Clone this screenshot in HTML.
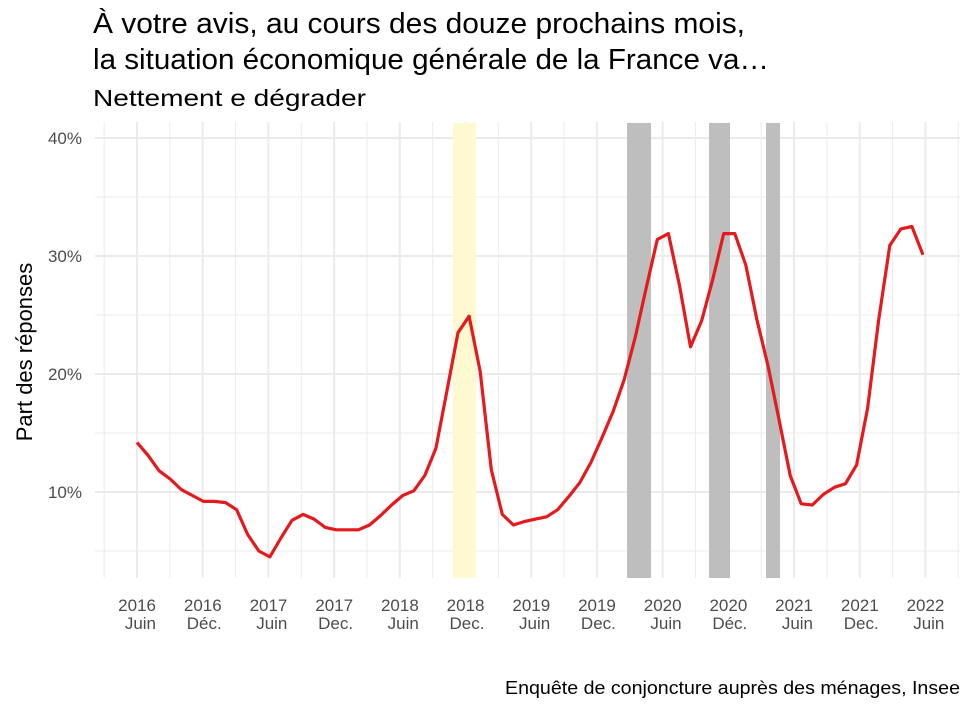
<!DOCTYPE html>
<html><head><meta charset="utf-8"><style>
body{margin:0;background:#fff;font-family:"Liberation Sans",sans-serif}
</style></head><body>
<svg width="974" height="708" viewBox="0 0 974 708" xmlns="http://www.w3.org/2000/svg" font-family="Liberation Sans, sans-serif">
<text x="93" y="33" font-size="29" fill="#000" textLength="652" lengthAdjust="spacingAndGlyphs">À votre avis, au cours des douze prochains mois,</text>
<text x="93" y="69" font-size="29" fill="#000" textLength="676" lengthAdjust="spacingAndGlyphs">la situation économique générale de la France va…</text>
<text x="93" y="106" font-size="23" fill="#000" textLength="273" lengthAdjust="spacingAndGlyphs">Nettement e dégrader</text>
<g id="grid"></g>
<g id="bands"></g>
<g id="series"></g>
<g id="yaxis"></g>
<g id="xaxis"></g>
<text transform="translate(32,352) rotate(-90)" text-anchor="middle" font-size="22" fill="#000">Part des réponses</text>
<text x="960" y="694" text-anchor="end" font-size="18" fill="#000" textLength="455" lengthAdjust="spacingAndGlyphs">Enquête de conjoncture auprès des ménages, Insee</text>
</svg>
<script>
// data: monthly share from June 2016
const values = [14.2,13.1,11.8,11.1,10.2,9.7,9.2,9.2,9.1,8.5,6.4,5.0,4.5,6.1,7.6,8.1,7.7,7.0,6.8,6.8,6.8,7.2,8.0,8.9,9.7,10.1,11.4,13.7,18.6,23.5,24.9,20.2,11.9,8.1,7.2,7.5,7.7,7.9,8.5,9.6,10.8,12.5,14.6,16.8,19.5,23.1,27.3,31.4,31.9,27.5,22.3,24.5,28.0,31.9,31.9,29.2,24.6,20.7,16.1,11.4,9.0,8.9,9.8,10.4,10.7,12.3,17.1,24.6,30.9,32.3,32.5,30.1];
const tickYears = ["2016","2016","2017","2017","2018","2018","2019","2019","2020","2020","2021","2021","2022"];
const tickMonths = ["Juin","Déc.","Juin","Dec.","Juin","Dec.","Juin","Dec.","Juin","Déc.","Juin","Dec.","Juin"];
const yTicks = [10,20,30,40];
const yMinor = [5,15,25,35];
// shaded periods in months since June 2016
const bandStart = [28.86,44.75,52.24,57.44];
const bandEnd = [30.96,46.94,54.16,58.72];
const bandKind = ["yellow","gray","gray","gray"];

const NS="http://www.w3.org/2000/svg";
const X0=137, DX=(923-137)/(values.length-1), MX=10.95;
const x=i=>X0+i*DX;
const xm=m=>X0+m*MX;
const y=v=>492-(v-10)*11.8;
const PT=122, PB=578, PL=95, PR=960;
function mk(tag,attrs,parent){const e=document.createElementNS(NS,tag);for(const k in attrs)e.setAttribute(k,attrs[k]);parent.appendChild(e);return e;}
const grid=document.getElementById('grid');
yMinor.forEach(v=>{const l=mk('line',{x1:PL,x2:PR,y1:y(v),y2:y(v),stroke:'#ebebeb','stroke-width':1},grid);

});
yTicks.forEach(v=>{const l=mk('line',{x1:PL,x2:PR,y1:y(v),y2:y(v),stroke:'#ebebeb','stroke-width':2},grid);

});
tickYears.forEach((t,k)=>{const xx=xm(k*6);
const l=mk('line',{x1:xx,x2:xx,y1:PT,y2:PB,stroke:'#ebebeb','stroke-width':2},grid);


[-3,3].forEach(o=>{const xq=xm(k*6+o);if(xq>PL&&xq<PR&&!(o<0&&k>0)){const m=mk('line',{x1:xq,x2:xq,y1:PT,y2:PB,stroke:'#ebebeb','stroke-width':1},grid);

}});});
const bands=document.getElementById('bands');
bandStart.forEach((s,k)=>{const r=mk('rect',{x:xm(s),y:PT+1,width:xm(bandEnd[k])-xm(s),height:PB-PT-1,fill:bandKind[k]==='yellow'?'#fff9d2':'#bebebe'},bands);

});
const series=document.getElementById('series');
const p=mk('polyline',{points:values.map((v,i)=>x(i).toFixed(1)+','+y(v).toFixed(1)).join(' '),fill:'none',stroke:'#e41a1c','stroke-width':3.2,'stroke-linejoin':'round'},series);


const ya=document.getElementById('yaxis');
yTicks.forEach(v=>{const t=mk('text',{x:82,y:y(v)+6,'text-anchor':'end','font-size':17,fill:'#4d4d4d'},ya);t.textContent=v+'%';

});
const xa=document.getElementById('xaxis');
tickYears.forEach((t,k)=>{const xx=xm(k*6)+19;
const a=mk('text',{x:xx,y:611,'text-anchor':'end','font-size':17,fill:'#4d4d4d'},xa);a.textContent=t;


const b=mk('text',{x:xx,y:629,'text-anchor':'end','font-size':17,fill:'#4d4d4d'},xa);b.textContent=tickMonths[k];

});
</script>
</body></html>
